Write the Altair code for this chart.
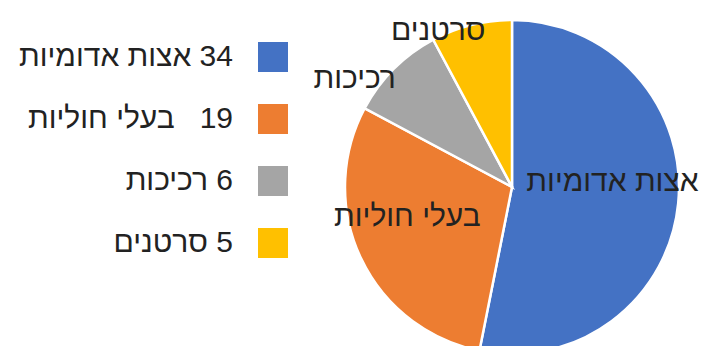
import altair as alt
import pandas as pd

categories = ["אצות אדומיות", "בעלי חוליות", "רכיכות", "סרטנים"]
counts = [34, 19, 6, 5]
colors = ["#4472C4", "#ED7D31", "#A5A5A5", "#FFC000"]
gaps = ["\u00a0", "\u00a0\u00a0\u00a0", "\u00a0", "\u00a0"]

legend_labels = [c + g + "\u200e" + str(n) for c, g, n in zip(categories, gaps, counts)]

df = pd.DataFrame({
    "category": categories,
    "count": counts,
    "order": list(range(len(categories))),
    "legend": legend_labels,
})

FONT = "Liberation Sans"
FS = 30

base = alt.Chart(df).encode(
    theta=alt.Theta("count:Q", stack=True),
    order=alt.Order("order:O"),
)

pie = base.mark_arc(radius=167, stroke="white", strokeWidth=2.5).encode(
    color=alt.Color(
        "legend:N",
        sort=legend_labels,
        scale=alt.Scale(domain=legend_labels, range=colors),
        legend=alt.Legend(
            title=None,
            orient="none",
            legendX=-87,
            legendY=14,
            symbolType="square",
            symbolSize=900,
            symbolStrokeWidth=0,
            labelFont=FONT,
            labelFontSize=FS,
            labelColor="#222222",
            labelAlign="right",
            labelOffset={"expr": "-55"},
            labelLimit=500,
            rowPadding=32,
        ),
    )
)

inner = base.mark_text(radius=108, dx=-7, dy=-16, font=FONT, fontSize=FS, color="#222222").encode(
    text=alt.condition("datum.order < 2", alt.Text("category:N"), alt.value(""))
)

outer = base.mark_text(radius=180, dx=-30, dy=19, font=FONT, fontSize=FS, color="#222222").encode(
    text=alt.condition("datum.order >= 2", alt.Text("category:N"), alt.value(""))
)

chart = alt.layer(pie, inner, outer).properties(
    width=334,
    height=318,
    padding={"left": 337, "top": 20, "right": 25, "bottom": 0},
    autosize=alt.AutoSizeParams(type="none"),
).configure_view(stroke=None)

chart.save("out.html", embed_options={"renderer": "svg", "actions": False})
